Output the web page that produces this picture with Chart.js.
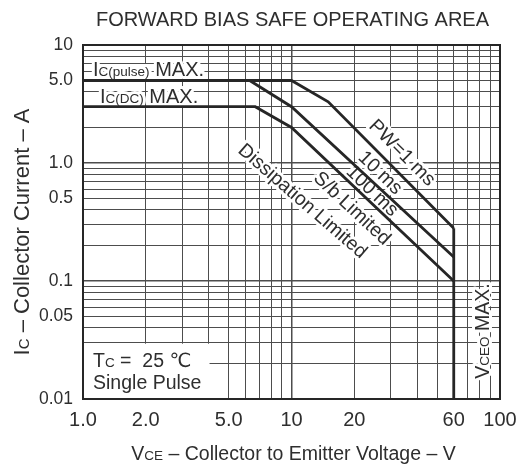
<!DOCTYPE html>
<html>
<head>
<meta charset="utf-8">
<script src="https://cdn.jsdelivr.net/npm/chart.js@4.4.1/dist/chart.umd.min.js"></script>
<style>
  body { margin: 0; background: #fff; }
  #wrap { width: 527px; height: 468px; }
</style>
</head>
<body>
<div id="wrap"><canvas id="chart"></canvas></div>
<script>
'use strict';

// SOA boundary curves (VCE in V, IC in A)
const pw1msV = [1, 10, 15, 60];
const pw1msI = [5, 5, 3.3, 0.28];
const pw10msV = [6.3, 10, 60];
const pw10msI = [5, 3, 0.16];
const dcV = [1, 6.7, 10, 60];
const dcI = [3, 3, 2, 0.1];
const vceoV = [60, 60];
const vceoI = [0.28, 0.01];

// grid + tick labels
const xGrid = [1, 2, 3, 4, 5, 6, 7, 8, 9, 10, 20, 30, 40, 50, 60, 70, 80, 90, 100];
const yGrid = [0.01, 0.02, 0.03, 0.04, 0.05, 0.06, 0.07, 0.08, 0.09,
  0.1, 0.2, 0.3, 0.4, 0.5, 0.6, 0.7, 0.8, 0.9, 1, 2, 3, 4, 5, 6, 7, 8, 9, 10];
const xLabelValues = [1, 2, 5, 10, 20, 60, 100];
const xLabelText = ['1.0', '2.0', '5.0', '10', '20', '60', '100'];
const yLabelValues = [0.01, 0.05, 0.1, 0.5, 1, 5, 10];
const yLabelText = ['0.01', '0.05', '0.1', '0.5', '1.0', '5.0', '10'];

const FONT = '"Liberation Sans", Arial, "DejaVu Sans", sans-serif';
const INK = '#2e2e2e';
const LINE = '#262626';

function toPoints(xs, ys) {
  return xs.map((x, i) => ({ x: x, y: ys[i] }));
}

function findLabel(values, texts, v) {
  for (let i = 0; i < values.length; i++) {
    if (Math.abs(values[i] - v) < values[i] * 1e-6) return texts[i];
  }
  return '';
}

// draw text made of runs with different sizes on one baseline
function drawRuns(ctx, runs, x, y, align, halo) {
  let widths = runs.map(r => {
    ctx.font = r[1] + 'px ' + FONT;
    return ctx.measureText(r[0]).width;
  });
  let total = widths.reduce((a, b) => a + b, 0);
  let cx = x;
  if (align === 'center') cx = x - total / 2;
  ctx.textAlign = 'left';
  ctx.textBaseline = 'alphabetic';
  for (let pass = halo ? 0 : 1; pass < 2; pass++) {
    let px = cx;
    runs.forEach((r, i) => {
      ctx.font = r[1] + 'px ' + FONT;
      if (pass === 0) {
        ctx.strokeStyle = '#fff';
        ctx.lineWidth = 6;
        ctx.lineJoin = 'round';
        ctx.strokeText(r[0], px, y);
      } else {
        ctx.fillStyle = INK;
        ctx.fillText(r[0], px, y);
      }
      px += widths[i];
    });
  }
}

// annotation texts, anchored in data coordinates
const notes = [
  { runs: [['I', 20], ['C(pulse)', 13.5], [' MAX.', 20]], v: 1.117, i: 5.46, align: 'left', rot: 0 },
  { runs: [['I', 20], ['C(DC)', 13.5], [' MAX.', 20]], v: 1.206, i: 3.22, align: 'left', rot: 0 },
  { runs: [['PW=1 ms', 19.5]], v: 34.3, i: 1.24, align: 'center', rot: 45 },
  { runs: [['10 ms', 19.5]], v: 26.9, i: 0.84, align: 'center', rot: 44 },
  { runs: [['100 ms', 19.5]], v: 24.6, i: 0.59, align: 'center', rot: 44 },
  { runs: [['S/b Limited', 19.5]], v: 19.7, i: 0.42, align: 'center', rot: 43 },
  { runs: [['Dissipation Limited', 19.5]], v: 11.4, i: 0.485, align: 'center', rot: 41 },
  { runs: [['V', 19.5], ['CEO', 13.5], [' MAX.', 19.5]], v: 82, i: 0.0377, align: 'center', rot: -90 },
  { runs: [['T', 19.5], ['C', 13.5], [' =  25 \u2103', 19.5]], v: 1.117, i: 0.0187, align: 'left', rot: 0 },
  { runs: [['Single Pulse', 19.5]], v: 1.117, i: 0.01216, align: 'left', rot: 0 }
];

const annotations = {
  id: 'annotations',
  beforeDatasetsDraw(chart) {
    const ctx = chart.ctx;
    const xs = chart.scales.x;
    const ys = chart.scales.y;
    ctx.save();
    // white box behind the Tc legend
    let bx0 = xs.getPixelForValue(1) + 1;
    let bx1 = xs.getPixelForValue(4) + 1;
    let by0 = ys.getPixelForValue(0.03) + 1;
    let by1 = ys.getPixelForValue(0.01);
    ctx.fillStyle = '#fff';
    ctx.fillRect(bx0, by0, bx1 - bx0, by1 - by0);
    notes.forEach(n => {
      let px = xs.getPixelForValue(n.v);
      let py = ys.getPixelForValue(n.i);
      ctx.save();
      ctx.translate(px, py);
      ctx.rotate(n.rot * Math.PI / 180);
      let dy = n.align === 'center' ? 7 : 0;
      drawRuns(ctx, n.runs, 0, dy, n.align, true);
      ctx.restore();
    });
    ctx.restore();
  },
  afterDraw(chart) {
    const ctx = chart.ctx;
    const a = chart.chartArea;
    ctx.save();
    ctx.strokeStyle = LINE;
    ctx.lineWidth = 2;
    ctx.strokeRect(a.left, a.top, a.right - a.left, a.bottom - a.top);
    let cx = (a.left + a.right) / 2;
    drawRuns(ctx, [['FORWARD BIAS SAFE OPERATING AREA', 20]], cx + 1, 26, 'center', false);
    drawRuns(ctx, [['V', 19.5], ['CE', 13.5], [' \u2013 Collector to Emitter Voltage \u2013 V', 19.5]], cx + 2, 460, 'center', false);
    ctx.translate(29, 232);
    ctx.rotate(-Math.PI / 2);
    drawRuns(ctx, [['I', 22], ['C', 15], [' \u2013 Collector Current \u2013 A', 22]], 0, 0, 'center', false);
    ctx.restore();
  }
};

function lineSet(xs, ys) {
  return {
    data: toPoints(xs, ys),
    showLine: true,
    borderColor: LINE,
    borderWidth: 2.8,
    pointRadius: 0,
    tension: 0,
    fill: false
  };
}

function gridWidth(ctx) {
  let v = ctx.tick && ctx.tick.value;
  let l = Math.log10(v);
  return Math.abs(l - Math.round(l)) < 1e-6 ? 1.5 : 1;
}

new Chart(document.getElementById('chart'), {
  type: 'scatter',
  data: {
    datasets: [
      lineSet(pw1msV, pw1msI),
      lineSet(pw10msV, pw10msI),
      lineSet(dcV, dcI),
      lineSet(vceoV, vceoI)
    ]
  },
  options: {
    responsive: true,
    maintainAspectRatio: false,
    animation: false,
    layout: { padding: { top: 45, right: 27, left: 0, bottom: 0 } },
    plugins: {
      legend: { display: false },
      tooltip: { enabled: false }
    },
    scales: {
      x: {
        type: 'logarithmic',
        min: 1,
        max: 100,
        afterBuildTicks: s => { s.ticks = xGrid.map(v => ({ value: v })); },
        afterFit: s => { s.height = 69; },
        grid: { color: '#4d4d4d', lineWidth: gridWidth, drawTicks: false },
        border: { display: false },
        ticks: {
          autoSkip: false,
          maxRotation: 0,
          padding: 9,
          color: INK,
          font: { family: FONT, size: 20 },
          callback: v => findLabel(xLabelValues, xLabelText, v)
        }
      },
      y: {
        type: 'logarithmic',
        min: 0.01,
        max: 10,
        afterBuildTicks: s => { s.ticks = yGrid.map(v => ({ value: v })); },
        afterFit: s => { s.width = 83; },
        grid: { color: '#4d4d4d', lineWidth: gridWidth, drawTicks: false },
        border: { display: false },
        ticks: {
          autoSkip: false,
          padding: 10,
          color: INK,
          font: { family: FONT, size: 17.5 },
          callback: v => findLabel(yLabelValues, yLabelText, v)
        }
      }
    }
  },
  plugins: [annotations]
});
</script>
</body>
</html>
